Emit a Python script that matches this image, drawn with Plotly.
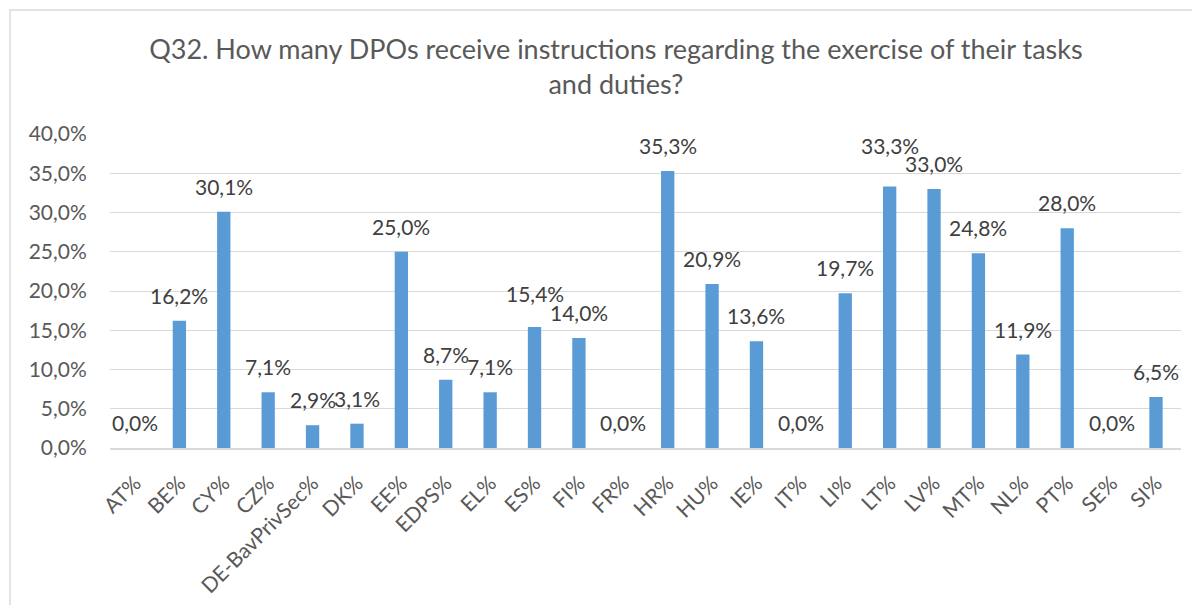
import plotly.graph_objects as go

categories = ["AT%", "BE%", "CY%", "CZ%", "DE-BavPrivSec%", "DK%", "EE%", "EDPS%", "EL%", "ES%",
              "FI%", "FR%", "HR%", "HU%", "IE%", "IT%", "LI%", "LT%", "LV%", "MT%", "NL%", "PT%",
              "SE%", "SI%"]
values = [0.0, 16.2, 30.1, 7.1, 2.9, 3.1, 25.0, 8.7, 7.1, 15.4,
          14.0, 0.0, 35.3, 20.9, 13.6, 0.0, 19.7, 33.3, 33.0, 24.8, 11.9, 28.0,
          0.0, 6.5]
title_text = "Q32. How many DPOs receive instructions regarding the exercise of their tasks<br>and duties?"

labels = [f"{v:.1f}%".replace(".", ",") for v in values]
# manual label nudges (as in the reference, where some labels were lifted to avoid overlap)
label_lift = {"LT%": 16, "ES%": 8}

FONT = "Lato, Carlito, Calibri, sans-serif"

fig = go.Figure(go.Bar(
    x=categories, y=values,
    marker=dict(color="#5b9bd5", line=dict(width=0)),
    width=0.3,
    hoverinfo="x+y",
))

for c, v, t in zip(categories, values, labels):
    fig.add_annotation(x=c, y=v, text=t, showarrow=False, yanchor="bottom",
                       yshift=11 + label_lift.get(c, 0),
                       font=dict(family=FONT, size=21, color="#404040"))

W, H = 1192, 597
fig.update_layout(
    width=W, height=H,
    paper_bgcolor="white", plot_bgcolor="white",
    separators=",.",
    margin=dict(l=102, r=19, t=126, b=157),
    title=dict(text=title_text, x=0.51, xanchor="center", y=1 - 51 / H, yanchor="top",
               font=dict(family=FONT, size=27, color="#595959")),
    showlegend=False,
    font=dict(family=FONT, color="#595959"),
)
fig.update_yaxes(range=[0, 40], dtick=5, tickformat=".1f", ticksuffix="%",
                 gridcolor="#d9d9d9", gridwidth=1, zeroline=False, automargin=False,
                 tickfont=dict(family=FONT, size=21, color="#595959"), ticklen=18,
                 ticks="outside", tickcolor="rgba(0,0,0,0)", showline=False)
fig.update_xaxes(tickangle=-45, showline=True, linecolor="#d9d9d9", linewidth=1.5,
                 automargin=False,
                 tickfont=dict(family=FONT, size=21, color="#595959"),
                 ticks="outside", ticklen=13, tickcolor="rgba(0,0,0,0)")

fig.add_shape(type="rect", xref="paper", yref="paper",
              x0=-100 / 1071, x1=1.05, y0=-0.6, y1=1 + 124 / 314,
              line=dict(color="#e3e3e3", width=2), fillcolor="rgba(0,0,0,0)", layer="below")

fig.write_html("out.html")
